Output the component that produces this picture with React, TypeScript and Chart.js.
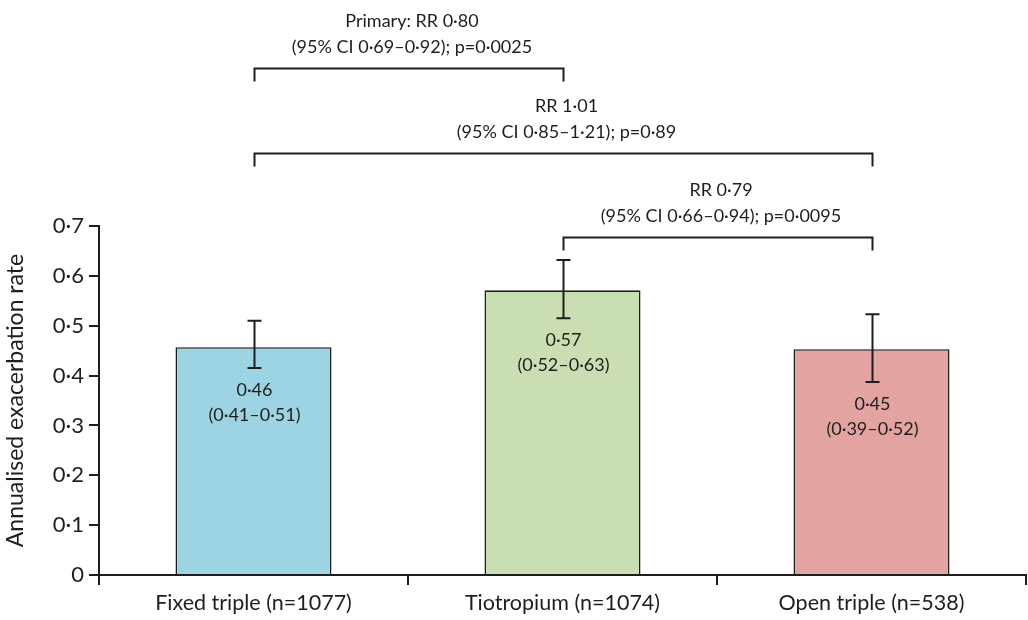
import { useEffect, useRef } from "react";
import { Chart, registerables } from "chart.js";

Chart.register(...registerables);

const categories = ["Fixed triple (n=1077)", "Tiotropium (n=1074)", "Open triple (n=538)"];
const rates = [0.457, 0.571, 0.453];
const ciLow = [0.415, 0.515, 0.387];
const ciHigh = [0.51, 0.632, 0.523];
const rateLabels = ["0·46", "0·57", "0·45"];
const ciLabels = ["(0·41–0·51)", "(0·52–0·63)", "(0·39–0·52)"];
const barColors = ["#9dd4e4", "#c9dfb3", "#e3a3a1"];
const yTickValues = [0, 0.1, 0.2, 0.3, 0.4, 0.5, 0.6, 0.7];

const compFrom = [0, 0, 1];
const compTo = [1, 2, 2];
const compLine1 = ["Primary: RR 0·80", "RR 1·01", "RR 0·79"];
const compLine2 = ["(95% CI 0·69–0·92); p=0·0025", "(95% CI 0·85–1·21); p=0·89", "(95% CI 0·66–0·94); p=0·0095"];
// bracket heights expressed on the y scale (beyond the axis max)
const bracketLevels = [1.017, 0.846, 0.678];

const FONT = "Lato, 'Open Sans', sans-serif";
const INK = "#1e1e1e";

const fmt = (v: number) => (Math.abs(v) < 1e-9 ? "0" : v.toFixed(1).replace(".", "·"));

const overlay = {
  id: "overlay",
  afterDatasetsDraw(chart: any) {
    const ctx = chart.ctx;
    const x = chart.scales.x;
    const y = chart.scales.y;
    ctx.save();
    ctx.strokeStyle = INK;
    ctx.fillStyle = INK;
    ctx.lineWidth = 2;
    ctx.textAlign = "center";
    ctx.textBaseline = "middle";
    rates.forEach((_, i) => {
      const cx = Math.round(x.getPixelForValue(i)) + 0.5;
      const yl = y.getPixelForValue(ciLow[i]);
      const yh = y.getPixelForValue(ciHigh[i]);
      ctx.beginPath();
      ctx.moveTo(cx, yl);
      ctx.lineTo(cx, yh);
      ctx.moveTo(cx - 7, yh);
      ctx.lineTo(cx + 7, yh);
      ctx.moveTo(cx - 7, yl);
      ctx.lineTo(cx + 7, yl);
      ctx.stroke();
      ctx.font = `18px ${FONT}`;
      ctx.fillText(rateLabels[i], cx, yl + 22);
      ctx.fillText(ciLabels[i], cx, yl + 47);
    });
    compFrom.forEach((f, k) => {
      const x1 = Math.round(x.getPixelForValue(f)) + 0.5;
      const x2 = Math.round(x.getPixelForValue(compTo[k])) + 0.5;
      const by = Math.round(y.getPixelForValue(bracketLevels[k])) + 0.5;
      ctx.beginPath();
      ctx.moveTo(x1, by + 13);
      ctx.lineTo(x1, by);
      ctx.lineTo(x2, by);
      ctx.lineTo(x2, by + 13);
      ctx.stroke();
      const mx = (x1 + x2) / 2 + 3;
      ctx.font = `18px ${FONT}`;
      ctx.fillText(compLine1[k], mx, by - 47);
      ctx.fillText(compLine2[k], mx, by - 21);
    });
    ctx.restore();
  },
};

export default function App() {
  const ref = useRef<HTMLCanvasElement | null>(null);
  useEffect(() => {
    if (!ref.current) return;
    const chart = new Chart(ref.current, {
      type: "bar",
      data: {
        labels: categories,
        datasets: [
          {
            data: rates,
            backgroundColor: barColors,
            borderColor: INK,
            borderWidth: 1.6,
            categoryPercentage: 1,
            barPercentage: 0.505,
          },
        ],
      },
      options: {
        animation: false,
        responsive: true,
        maintainAspectRatio: false,
        layout: { padding: { top: 226, right: 2, left: 0, bottom: 0 } },
        plugins: { legend: { display: false }, tooltip: { enabled: false } },
        scales: {
          x: {
            grid: { offset: true, drawOnChartArea: false, drawTicks: true, tickLength: 10, color: INK, lineWidth: 2 },
            border: { color: INK, width: 2 },
            ticks: { color: INK, font: { family: FONT, size: 21.5 }, padding: 5 },
            afterFit: (s: any) => { s.height = 45; },
          },
          y: {
            min: 0,
            max: 0.7,
            afterBuildTicks: (s: any) => { s.ticks = yTickValues.map((v) => ({ value: v })); },
            grid: { drawOnChartArea: false, drawTicks: true, tickLength: 10, color: INK, lineWidth: 2 },
            border: { color: INK, width: 2 },
            ticks: { color: INK, font: { family: FONT, size: 22 }, padding: 5, callback: (v: any) => fmt(Number(v)) },
            title: { display: true, text: "Annualised exacerbation rate", color: INK, font: { family: FONT, size: 23 }, padding: { top: 2, bottom: 0 } },
            afterFit: (s: any) => { s.width = 99; },
          },
        },
      },
      plugins: [overlay],
    });
    return () => chart.destroy();
  }, []);
  return (
    <div style={{ position: "fixed", left: 0, top: 0, width: 1028, height: 620, background: "#fff" }}>
      <canvas ref={ref} />
    </div>
  );
}
